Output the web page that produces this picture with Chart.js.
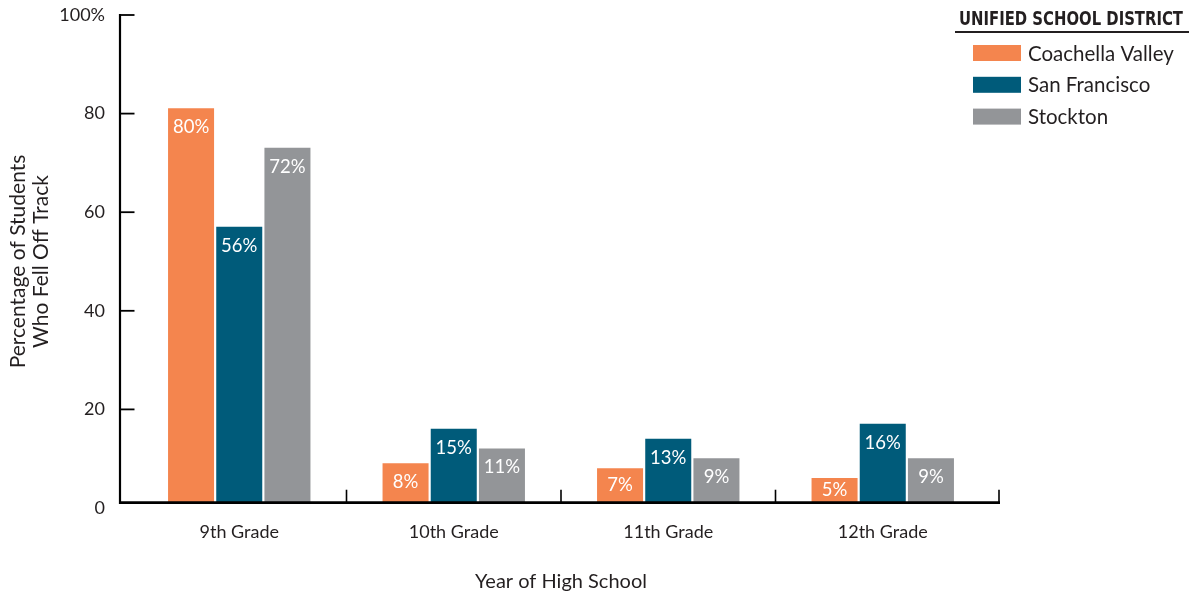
<!DOCTYPE html>
<html><head><meta charset="utf-8">
<script src="https://cdn.jsdelivr.net/npm/chart.js@4/dist/chart.umd.min.js"></script>
<style>html,body{margin:0;padding:0;background:#fff;overflow:hidden}</style>
</head><body>
<canvas id="c" width="1189" height="597"></canvas>
<script>
const categories = ['9th Grade', '10th Grade', '11th Grade', '12th Grade'];
const seriesNames = ['Coachella Valley', 'San Francisco', 'Stockton'];
const coachellaValley = [80, 8, 7, 5];
const sanFrancisco = [56, 15, 13, 16];
const stockton = [72, 11, 9, 9];
const tickValues = [0, 20, 40, 60, 80, 100];
const tickLabels = ['0', '20', '40', '60', '80', '100%'];
const legendTitle = 'UNIFIED SCHOOL DISTRICT';
const yTitle = ['Percentage of Students', 'Who Fell Off Track'];
const xTitle = 'Year of High School';

const COLORS = ['#F4854E', '#005B7A', '#939598'];
const TEXT = '#231F20';
const FONT = 'Lato';
const OFF = 1.07; // the tick grid sits slightly below the bar baseline in the original

const framePlugin = {
  id: 'frame',
  afterDatasetsDraw(chart) {
    const ctx = chart.ctx;
    const ca = chart.chartArea;
    const xs = chart.scales.x, ys = chart.scales.y;
    const axisX = ca.left - 12;
    const y0 = ys.getPixelForValue(0);
    const xEnd = ca.right + 9;
    ctx.save();
    ctx.strokeStyle = '#000';
    ctx.lineCap = 'butt';
    // y axis
    ctx.lineWidth = 2.2;
    ctx.beginPath();
    ctx.moveTo(axisX, ca.top - 1);
    ctx.lineTo(axisX, y0 + 1.3);
    ctx.stroke();
    // x axis
    ctx.lineWidth = 2.7;
    ctx.beginPath();
    ctx.moveTo(axisX - 1, y0);
    ctx.lineTo(xEnd + 1, y0);
    ctx.stroke();
    // y tick marks
    ctx.lineWidth = 1.8;
    ys.ticks.forEach((t, i) => {
      if (i === 0) return;
      const y = ys.getPixelForValue(t.value);
      ctx.beginPath();
      ctx.moveTo(axisX, y);
      ctx.lineTo(axisX + 14.5, y);
      ctx.stroke();
    });
    // category separators
    ctx.lineWidth = 1.6;
    const seps = [];
    for (let i = 0; i < categories.length - 1; i++) {
      seps.push((xs.getPixelForTick(i) + xs.getPixelForTick(i + 1)) / 2);
    }
    seps.push(xEnd);
    seps.forEach(x => {
      ctx.beginPath();
      ctx.moveTo(x, y0);
      ctx.lineTo(x, y0 - 13);
      ctx.stroke();
    });
    // value labels inside bars
    ctx.fillStyle = '#fff';
    ctx.font = '18.5px ' + FONT;
    ctx.textAlign = 'center';
    ctx.textBaseline = 'middle';
    chart.data.datasets.forEach((ds, di) => {
      const meta = chart.getDatasetMeta(di);
      meta.data.forEach((el, i) => {
        const y = Math.min(el.y + 19, (el.y + el.base) / 2);
        ctx.fillText(ds.data[i] + '%', el.x, y);
      });
    });
    // legend
    ctx.fillStyle = TEXT;
    ctx.textAlign = 'left';
    ctx.textBaseline = 'alphabetic';
    ctx.font = 'bold 19px "DejaVu Sans Condensed", Roboto, sans-serif';
    ctx.fillText(legendTitle, 959, 25, 224);
    ctx.fillRect(955, 31, 234, 2);
    ctx.font = '20.5px ' + FONT;
    ctx.textBaseline = 'middle';
    chart.data.datasets.forEach((ds, di) => {
      const cy = 53 + di * 31.8;
      ctx.fillStyle = ds.backgroundColor;
      ctx.fillRect(973, cy - 8, 48, 16);
      ctx.fillStyle = TEXT;
      ctx.fillText(ds.label, 1028, cy + 1);
    });
    ctx.restore();
  }
};

const datasets = [coachellaValley, sanFrancisco, stockton].map((d, i) => ({
  label: seriesNames[i],
  data: d,
  backgroundColor: COLORS[i],
  borderWidth: 0,
  barPercentage: 0.955,
  categoryPercentage: 0.674
}));

new Chart(document.getElementById('c'), {
  type: 'bar',
  data: { labels: categories, datasets },
  options: {
    responsive: false,
    animation: false,
    layout: { padding: { top: 15, right: 199, bottom: 0, left: 0 } },
    plugins: { legend: { display: false }, tooltip: { enabled: false } },
    scales: {
      x: {
        grid: { display: false, drawTicks: false },
        border: { display: false },
        ticks: { color: TEXT, font: { family: FONT, size: 18 }, padding: 13 },
        title: { display: true, text: xTitle, color: TEXT, font: { family: FONT, size: 20 }, padding: { top: 0, bottom: 3 } },
        afterFit(s) { s.height = 89; s.paddingLeft = 0; s.paddingRight = 0; }
      },
      y: {
        min: -OFF,
        max: 100 - OFF,
        grid: { display: false, drawTicks: false },
        border: { display: false },
        afterBuildTicks(s) { s.ticks = tickValues.map(v => ({ value: v - OFF })); },
        ticks: {
          color: TEXT, font: { family: FONT, size: 18 }, padding: 27,
          callback: (v, i) => tickLabels[i]
        },
        title: { display: true, text: yTitle, color: TEXT, font: { family: FONT, size: 21, lineHeight: 1.1 }, padding: { top: 7, bottom: 0 } },
        afterFit(s) { s.width = 132; s.paddingTop = 0; s.paddingBottom = 0; }
      }
    }
  },
  plugins: [framePlugin]
});
</script>
</body></html>
